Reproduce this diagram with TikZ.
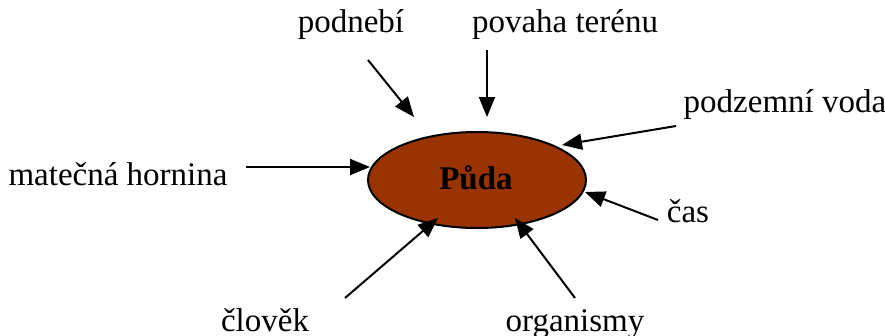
\documentclass[tikz,border=0pt]{standalone}
\usepackage{fontspec}
\setmainfont{Liberation Serif}
\usetikzlibrary{arrows.meta,shapes.geometric}
\definecolor{soil}{HTML}{993300}
\begin{document}
\begin{tikzpicture}[x=1pt,y=-1pt,
  lbl/.style={anchor=base,inner sep=0pt,font=\fontsize{33}{39}\selectfont},
  arr/.style={line width=2pt,-{Triangle[length=20pt,width=16pt]}}]
\useasboundingbox (0,0) rectangle (885,335);
\node[ellipse,draw,line width=2pt,fill=soil,minimum width=218pt,minimum height=96pt,inner sep=0pt] (puda) at (477,180) {};
\node[lbl,font=\fontsize{33}{39}\selectfont\bfseries] (pudat) at (476,189) {Půda};
\node[lbl] (podnebi) at (351,32) {podnebí};
\node[lbl] (povaha) at (565,32) {povaha terénu};
\node[lbl] (voda) at (785,112) {podzemní voda};
\node[lbl] (hornina) at (118,185) {matečná hornina};
\node[lbl] (cas) at (688,222) {čas};
\node[lbl] (clovek) at (265,331) {člověk};
\node[lbl] (org) at (575,331) {organismy};
\coordinate (a1) at (368,60); \coordinate (b1) at (414,117);
\coordinate (a2) at (487,50); \coordinate (b2) at (487,117);
\coordinate (a3) at (676,126); \coordinate (b3) at (562,145);
\coordinate (a4) at (246,167); \coordinate (b4) at (370,167);
\coordinate (a5) at (658,220); \coordinate (b5) at (585,192);
\coordinate (a6) at (345,298); \coordinate (b6) at (438,218);
\coordinate (a7) at (575,298); \coordinate (b7) at (515,218);
\draw[arr] (a1) -- (b1);
\draw[arr] (a2) -- (b2);
\draw[arr] (a3) -- (b3);
\draw[arr] (a4) -- (b4);
\draw[arr] (a5) -- (b5);
\draw[arr] (a6) -- (b6);
\draw[arr] (a7) -- (b7);
\end{tikzpicture}
\end{document}
